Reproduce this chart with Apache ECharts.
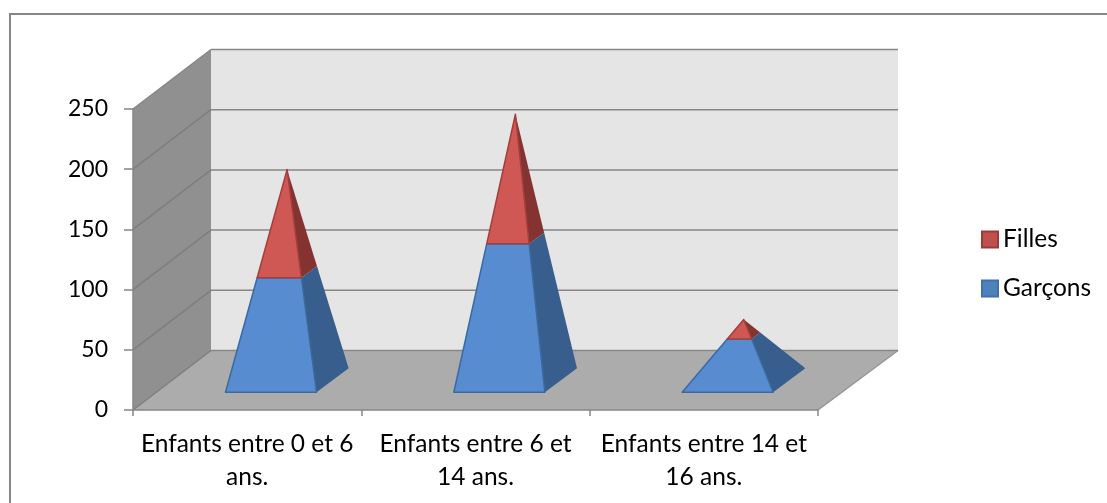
<!DOCTYPE html>
<html><head><meta charset="utf-8">
<style>html,body{margin:0;padding:0;background:#fff}#c{width:1107px;height:503px}</style>
<script src="https://cdn.jsdelivr.net/npm/echarts@6/dist/echarts.min.js"></script>
</head><body><div id="c"></div>
<script>
const categories = ['Enfants entre 0 et 6\nans.', 'Enfants entre 6 et\n14 ans.', 'Enfants entre 14 et\n16 ans.'];
const garcons = [90, 118, 37];
const filles = [85, 103, 13.5];
const yTicks = [0, 50, 100, 150, 200, 250];

const FONT = 'Lato';
const DEPTH = [80, -59.5];      // projected offset of the full floor depth, px
const DEPTH_X_LEFT = 78;        // the left wall recedes slightly less than the right edge
const D_FRONT = 0.298, D_BACK = 0.7, HALF = 45.5;
const GRID_LINE = '#868686';

function face(points, fill, stroke) {
  return {type: 'polygon', shape: {points}, style: {fill, stroke: stroke || 'none', lineWidth: stroke ? 1.5 : 0, lineJoin: 'round'}};
}
function project(api, cat, value, dx, d) {
  const p = api.coord([cat, value]);
  return [p[0] + dx + d * DEPTH[0], p[1] + d * DEPTH[1]];
}
function lerp(a, b, t) { return [a[0] + (b[0] - a[0]) * t, a[1] + (b[1] - a[1]) * t]; }

function pyramidRenderer(fromLower, front, side, edge) {
  return function (params, api) {
    const cat = api.value(0);
    const lower = fromLower ? garcons[cat] : 0;
    const upper = lower + api.value(1);
    const total = garcons[cat] + filles[cat];
    const fl = project(api, cat, 0, -HALF, D_FRONT);
    const fr = project(api, cat, 0, HALF, D_FRONT);
    const br = project(api, cat, 0, HALF, D_BACK);
    const apex = project(api, cat, total, 0, (D_FRONT + D_BACK) / 2);
    const t0 = lower / total, t1 = upper / total;
    return {type: 'group', children: [
      face([lerp(fr, apex, t0), lerp(br, apex, t0), lerp(br, apex, t1), lerp(fr, apex, t1)], side, null),
      face([lerp(fl, apex, t0), lerp(fr, apex, t0), lerp(fr, apex, t1), lerp(fl, apex, t1)], front, edge)
    ]};
  };
}
function wallRenderer(params, api) {
  const v = api.value(0);
  const xMin = api.coord([0, 0])[0] - api.size([1, 0])[0] / 2;
  const xMax = xMin + api.size([1, 0])[0] * categories.length;
  const atL = (val, d) => [xMin + d * DEPTH_X_LEFT, api.coord([0, val])[1] + d * DEPTH[1]];
  const atR = (val, d) => [xMax + d * DEPTH[0], api.coord([0, val])[1] + d * DEPTH[1]];
  const line = (a, b, color) => ({type: 'line', shape: {x1: a[0], y1: a[1], x2: b[0], y2: b[1]}, style: {stroke: color || GRID_LINE, lineWidth: 1.5}});
  const children = [];
  const top = yTicks[yTicks.length - 1];
  if (v === 0) {
    children.push(face([atL(0, 0), atL(0, 1), atL(top, 1), atL(top, 0)], '#909090'));
    children.push(face([atL(0, 1), atR(0, 1), atR(top, 1), atL(top, 1)], '#E5E5E5'));
    children.push(face([atL(0, 0), atR(0, 0), atR(0, 1), atL(0, 1)], '#ACACAC'));
    children.push(line(atR(0, 0), atR(0, 1), '#969696'));
  }
  children.push(line(atL(v, 0), atL(v, 1), v === top ? GRID_LINE : '#7e7e7e'));
  children.push(line(atL(v, 1), atR(v, 1)));
  return {type: 'group', children};
}

const chart = echarts.init(document.getElementById('c'), null, {renderer: 'canvas'});
chart.setOption({
  animation: false,
  backgroundColor: '#fff',
  textStyle: {fontFamily: FONT},
  grid: {left: 133, top: 109, width: 685, height: 301},
  legend: {
    orient: 'vertical', left: 981, top: 227, padding: 0, icon: 'rect', itemWidth: 16, itemHeight: 16, itemGap: 24,
    data: ['Filles', 'Garçons'],
    textStyle: {fontFamily: FONT, fontSize: 24.5, lineHeight: 24, color: '#000'}
  },
  xAxis: {
    type: 'category', data: categories, z: 5,
    axisLine: {lineStyle: {color: GRID_LINE, width: 1.5}},
    axisTick: {show: true, length: 6, lineStyle: {color: GRID_LINE, width: 1.5}, alignWithLabel: false},
    axisLabel: {color: '#000', fontFamily: FONT, fontSize: 24.5, lineHeight: 33, margin: 18, interval: 0}
  },
  yAxis: {
    type: 'value', min: 0, max: 250, interval: 50, z: 5,
    axisLine: {show: true, lineStyle: {color: GRID_LINE, width: 1.5}},
    axisTick: {show: true, length: 9, lineStyle: {color: GRID_LINE, width: 1.5}},
    axisLabel: {color: '#000', fontFamily: FONT, fontSize: 23, margin: 25, padding: [6, 0, 0, 0]},
    splitLine: {show: false}
  },
  series: [
    {type: 'custom', name: 'walls', z: 1, silent: true, data: yTicks.map(v => [v]), encode: {x: [], y: 0}, renderItem: wallRenderer, clip: false},
    {type: 'custom', name: 'Garçons', z: 2, data: garcons.map((v, i) => [i, v]), encode: {x: 0, y: 1},
     itemStyle: {color: '#4F81BD', borderColor: '#3F71AD', borderWidth: 1.5},
     renderItem: pyramidRenderer(false, '#578DD0', '#375E8C', '#3A6A9F'), clip: false},
    {type: 'custom', name: 'Filles', z: 3, data: filles.map((v, i) => [i, v]), encode: {x: 0, y: 1},
     itemStyle: {color: '#C0504D', borderColor: '#9B3B38', borderWidth: 1.5},
     renderItem: pyramidRenderer(true, '#CF5754', '#843331', '#A23F3C'), clip: false}
  ],
  graphic: [
    {type: 'polyline', z: 10, silent: true, shape: {points: [[10, 503], [10, 14], [1107, 14]]}, style: {fill: 'none', stroke: '#878787', lineWidth: 2}}
  ]
});
</script></body></html>
